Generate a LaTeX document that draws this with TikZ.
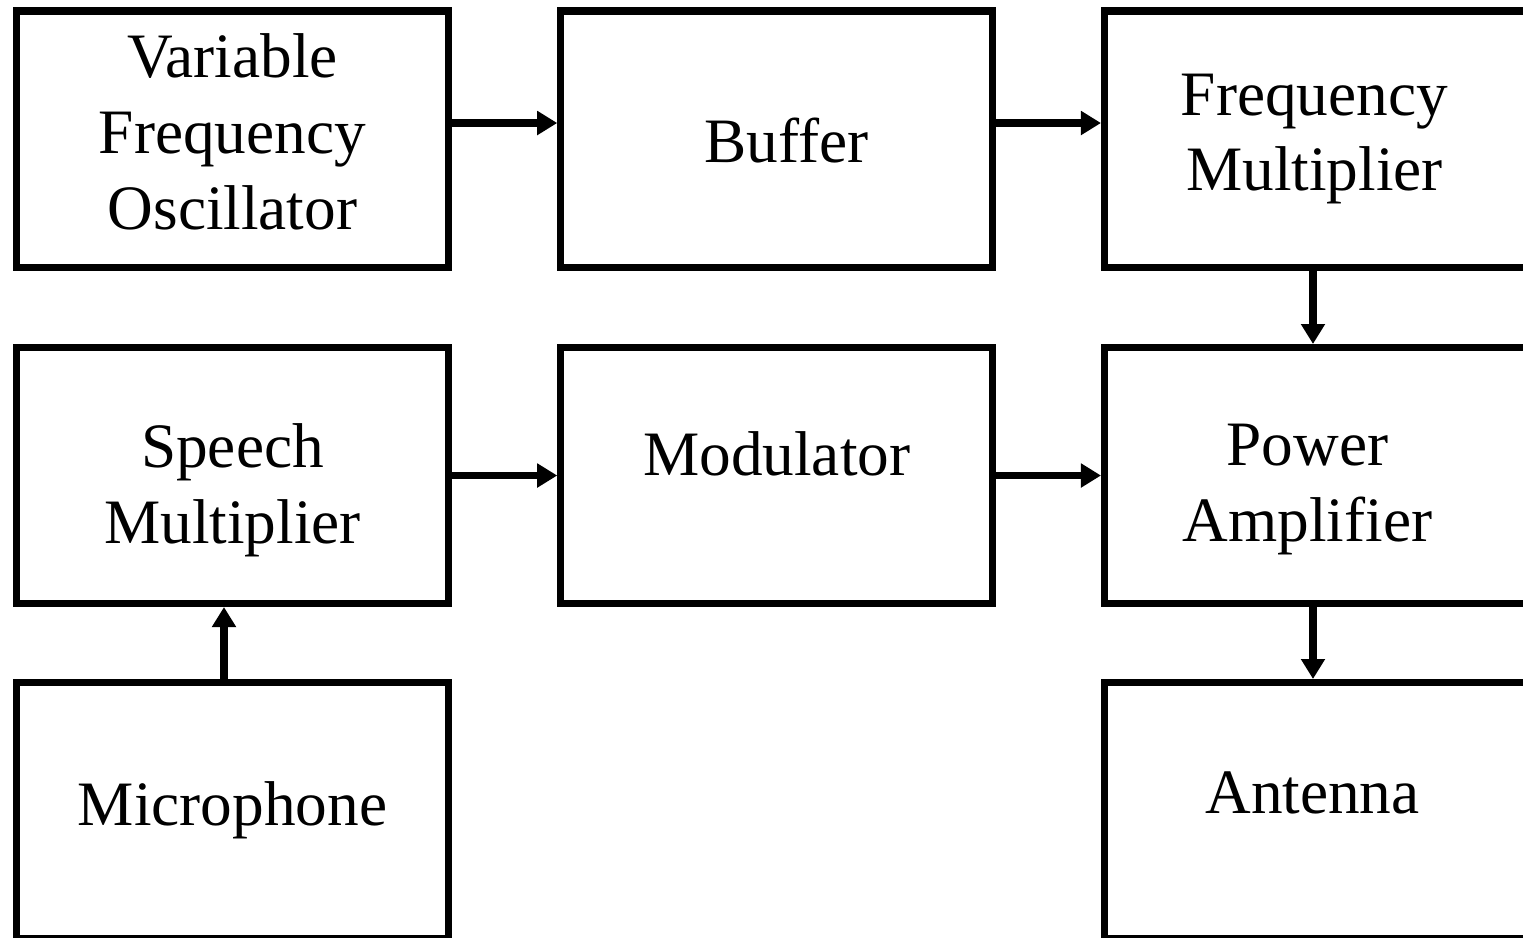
\documentclass[tikz,border=0pt]{standalone}
\usepackage{fontspec}
\setmainfont{Liberation Serif}
\usetikzlibrary{arrows.meta}
\tikzset{
  blk/.style={draw, line width=2pt, minimum width=4.32cm, minimum height=2.56cm},
  txt/.style={align=center, font=\fontsize{18pt}{21.6pt}\selectfont},
  arr/.style={line width=2pt, -{Triangle[length=0.2cm,width=0.23cm]}}
}
\begin{document}
\begin{tikzpicture}
\useasboundingbox (0,0) rectangle (15.23,-9.37);
\clip (0,0) rectangle (15.23,-9.37);

% boxes
\node[blk] at (2.325,-1.39) (vfo){};
\node[blk] at (7.7675,-1.39) (buf){};
\node[blk] at (13.205,-1.39) (mult){};
\node[blk] at (2.325,-4.755) (speech){};
\node[blk] at (7.7675,-4.755) (mod){};
\node[blk] at (13.205,-4.755) (pa){};
\node[blk] at (2.325,-8.105) (mic){};
\node[blk] at (13.205,-8.105) (ant){};

% labels
\node[txt] at ([yshift=0.07cm]vfo) (vfo-t){Variable\\Frequency\\Oscillator};
\node[txt] at ([xshift=0.1cm,yshift=-0.02cm]buf) (buf-t){Buffer};
\node[txt] at ([xshift=-0.06cm]mult) (mult-t){Frequency\\Multiplier};
\node[txt] at ([yshift=-0.15cm]speech) (speech-t){Speech\\Multiplier};
\node[txt] at ([yshift=0.22cm]mod) (mod-t){Modulator};
\node[txt] at ([xshift=-0.13cm,yshift=-0.14cm]pa) (pa-t){Power\\Amplifier};
\node[txt] at (mic) (mic-t){Microphone};
\node[txt] at ([xshift=-0.08cm,yshift=0.18cm]ant) (ant-t){Antenna};

% top row
\draw[arr] ([yshift=0.16cm]vfo.east) -- ([yshift=0.16cm]buf.west);
\draw[arr] ([yshift=0.16cm]buf.east) -- ([yshift=0.16cm]mult.west);
\draw[arr] ([xshift=-0.075cm]mult.south) -- ([xshift=-0.075cm]pa.north);
% middle row
\draw[arr] (speech.east) -- (mod.west);
\draw[arr] (mod.east) -- (pa.west);
\draw[arr] ([xshift=-0.085cm]mic.north) -- ([xshift=-0.085cm]speech.south);
\draw[arr] ([xshift=-0.075cm]pa.south) -- ([xshift=-0.075cm]ant.north); %to antenna

\end{tikzpicture}
\end{document}
